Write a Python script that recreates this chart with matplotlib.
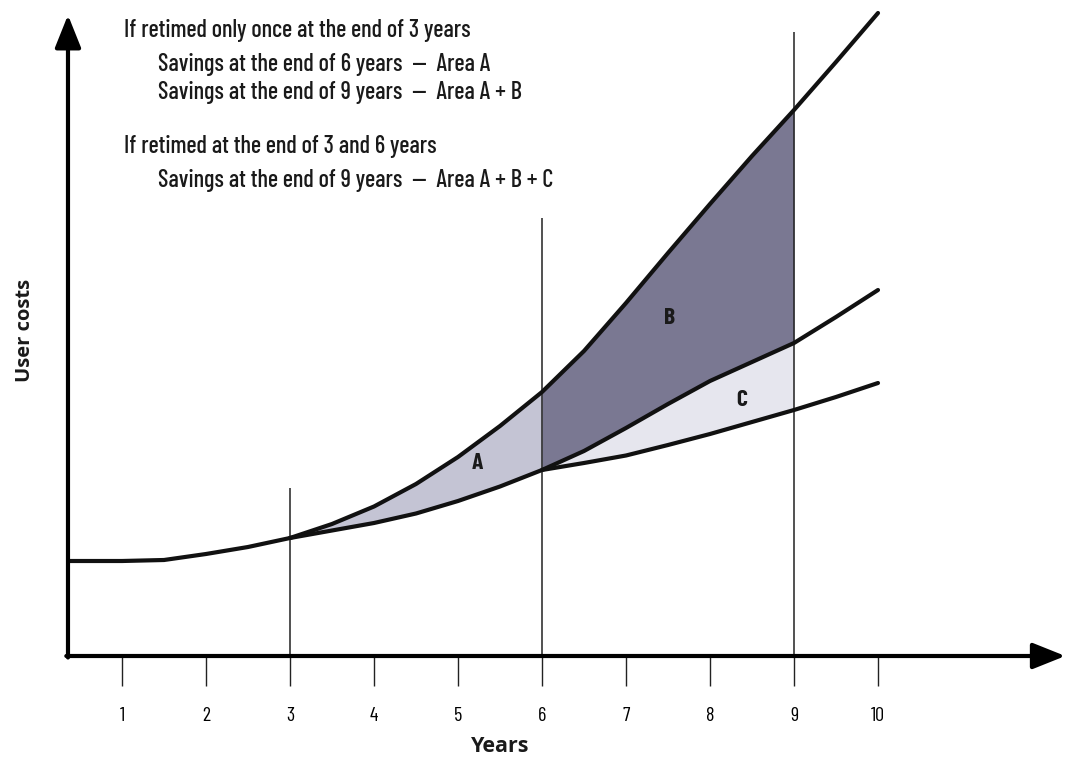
import numpy as np
import matplotlib
matplotlib.use("Agg")
import matplotlib.pyplot as plt

plt.rcParams['font.family'] = ['Barlow Condensed', 'DejaVu Sans']
label_font = ['Open Sans', 'DejaVu Sans']

# user costs (arbitrary units) against years
years_early = [0.36, 1.0, 1.5, 2.0, 2.5, 3.0]
cost_early = [1.90, 1.90, 1.92, 2.04, 2.18, 2.36]

years = np.array([3.0, 3.5, 4.0, 4.5, 5.0, 5.5, 6.0, 6.5, 7.0, 7.5, 8.0, 8.5, 9.0, 9.5, 10.0])
cost_no_retime = np.array([2.36, 2.64, 2.99, 3.44, 3.98, 4.60, 5.28, 6.10, 7.06, 8.06, 9.04, 10.00, 10.92, 11.88, 12.86])
cost_retime_3 = np.array([2.36, 2.51, 2.66, 2.85, 3.10, 3.39, 3.72, 4.10, 4.56, 5.04, 5.50, 5.88, 6.26, 6.78, 7.32])

years_late = np.array([6.0, 6.5, 7.0, 7.5, 8.0, 8.5, 9.0, 9.5, 10.0])
cost_retime_3_6 = np.array([3.72, 3.86, 4.01, 4.22, 4.44, 4.68, 4.92, 5.18, 5.46])

retime_years = [3, 6, 9]
retime_line_tops = [3.36, 8.76, 12.48]
tick_years = list(range(1, 11))

text_lines = [
    ("If retimed only once at the end of 3 years", 0),
    ("Savings at the end of 6 years  \u2014  Area A", 1),
    ("Savings at the end of 9 years  \u2014  Area A + B", 1),
    ("If retimed at the end of 3 and 6 years", 0),
    ("Savings at the end of 9 years  \u2014  Area A + B + C", 1),
]
text_y = [31, 65, 92, 147, 180]

fig = plt.figure(figsize=(10.7, 7.67), dpi=100)
ax = fig.add_axes([0, 0, 1, 1])
ax.set_xlim(-38/84, (1070-38)/84)
ax.set_ylim((656-767)/50, 656/50)
for s in ax.spines.values():
    s.set_visible(False)
ax.spines['bottom'].set_position(('data', 0))

# shaded areas
col_a = '#c4c4d4'
col_b = '#7a7892'
col_c = '#e6e6ee'
m_a = years <= 6
m_b = (years >= 6) & (years <= 9)
ax.fill_between(years[m_a], cost_retime_3[m_a], cost_no_retime[m_a], color=col_a, lw=0)
ax.fill_between(years[m_b], cost_retime_3[m_b], cost_no_retime[m_b], color=col_b, lw=0)
m_c = years_late <= 9
ax.fill_between(years_late[m_c], cost_retime_3_6[m_c], cost_retime_3[m_b], color=col_c, lw=0)

# vertical retiming lines
ax.vlines(retime_years, 0, retime_line_tops, color='#222222', lw=1.1)

# curves
lw = 3.0
ax.plot(years_early, cost_early, color='#111111', lw=lw, solid_capstyle='round')
ax.plot(years, cost_no_retime, color='#111111', lw=lw, solid_capstyle='round')
ax.plot(years, cost_retime_3, color='#111111', lw=lw, solid_capstyle='round')
ax.plot(years_late, cost_retime_3_6, color='#111111', lw=lw, solid_capstyle='round')

# area labels
ax.text(5.23, 3.86, "A", fontsize=17, fontweight='bold', ha='center', va='center', color='#1a1a1a')
ax.text(7.52, 6.76, "B", fontsize=17, fontweight='bold', ha='center', va='center', color='#1a1a1a')
ax.text(8.38, 5.12, "C", fontsize=17, fontweight='bold', ha='center', va='center', color='#1a1a1a')

# axes with arrow heads
x0 = 0.357
ax.annotate('', xy=(12.23, 0), xytext=(x0 - 0.02, 0),
            arrowprops=dict(arrowstyle='-|>,head_length=1.0,head_width=0.4', lw=3,
                            color='black', shrinkA=0, shrinkB=0, mutation_scale=20))
ax.annotate('', xy=(x0, 12.82), xytext=(x0, -0.03),
            arrowprops=dict(arrowstyle='-|>,head_length=1.0,head_width=0.4', lw=3,
                            color='black', shrinkA=0, shrinkB=0, mutation_scale=20))

ax.set_xticks(tick_years)
ax.set_xticklabels([str(t) for t in tick_years])
ax.tick_params(axis='x', direction='out', length=21.6, width=1.0, color='#222222',
               pad=15, labelsize=14.5)
ax.set_yticks([])

for (txt, indent), py in zip(text_lines, text_y):
    fig.text((124 + 34*indent)/1070, 1 - py/767, txt, fontsize=17.5, fontweight='medium',
             ha='left', va='center', color='#1a1a1a')

fig.text(25/1070, 1 - 330/767, "User costs", rotation=90, fontsize=14.5, fontweight='bold',
         family=label_font, ha='center', va='center', color='#1a1a1a')
fig.text(500/1070, 1 - 746/767, "Years", fontsize=15.5, fontweight='bold',
         family=label_font, ha='center', va='center', color='#1a1a1a')

fig.savefig("out.png", dpi=100)
